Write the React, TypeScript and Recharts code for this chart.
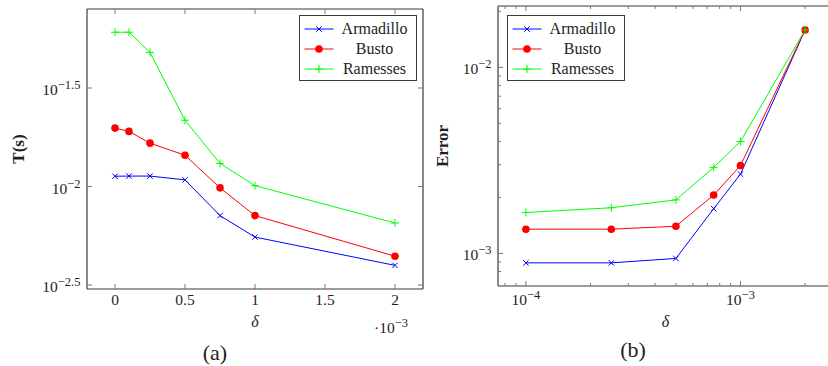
import React from "react";
import { LineChart, Line, XAxis, YAxis, Legend } from "recharts";

// panel (a): running time against delta
const deltaTime = [0, 0.0001, 0.00025, 0.0005, 0.00075, 0.001, 0.002];
const timeArmadillo = [0.01128, 0.0113, 0.0113, 0.01081, 0.00712, 0.00554, 0.00398];
const timeBusto = [0.0198, 0.01905, 0.0166, 0.01442, 0.00985, 0.00712, 0.00443];
const timeRamesses = [0.0607, 0.0607, 0.0479, 0.0217, 0.0131, 0.0101, 0.00653];

// panel (b): error against delta
const deltaError = [0.0001, 0.00025, 0.0005, 0.00075, 0.001, 0.002];
const errorArmadillo = [0.00089, 0.00089, 0.00094, 0.00174, 0.00267, 0.0159];
const errorBusto = [0.00135, 0.00135, 0.0014, 0.00206, 0.00297, 0.0159];
const errorRamesses = [0.00166, 0.00176, 0.00194, 0.0029, 0.004, 0.0159];

// ticks
const timeXTicks = [0, 0.0005, 0.001, 0.0015, 0.002];
const timeYTicks = [10 ** -2.5, 10 ** -2, 10 ** -1.5];
const errorXMajor = [0.0001, 0.001];
const errorXMinor = [0.00008, 0.00009, 0.0002, 0.0003, 0.0004, 0.0005, 0.0006, 0.0007, 0.0008, 0.0009, 0.002];
const errorYMajor = [0.001, 0.01];
const errorYMinor = [0.0008, 0.0009, 0.002, 0.003, 0.004, 0.005, 0.006, 0.007, 0.008, 0.009, 0.02];

const timeXDomain = [-0.0002, 0.0022];
const timeYDomain = [10 ** -2.52, 10 ** -1.099];
const errorXDomain = [10 ** -4.13, 10 ** -2.569];
const errorYDomain = [10 ** -3.175, 10 ** -1.67];

const series = [
  { name: "Armadillo", color: "#0000ff", mark: "x" },
  { name: "Busto", color: "#ff0000", mark: "o" },
  { name: "Ramesses", color: "#00ff00", mark: "+" },
];

const timeRows = deltaTime.map((d, i) => ({
  delta: d,
  Armadillo: timeArmadillo[i],
  Busto: timeBusto[i],
  Ramesses: timeRamesses[i],
}));

const errorRows = deltaError.map((d, i) => ({
  delta: d,
  Armadillo: errorArmadillo[i],
  Busto: errorBusto[i],
  Ramesses: errorRamesses[i],
}));

const FONT = '"Liberation Serif", "DejaVu Serif", serif';
const FRAME = "#3a3a3a";
const TICK = "#7a7a7a";
const TEXT = "#1e1e1e";

function Mark({ cx, cy, mark, color }: any) {
  if (cx == null || cy == null) return null;
  if (mark === "o") return <circle cx={cx} cy={cy} r={3.8} fill={color} />;
  if (mark === "x") {
    const s = 2.7;
    return (
      <path
        d={`M${cx - s},${cy - s}L${cx + s},${cy + s}M${cx - s},${cy + s}L${cx + s},${cy - s}`}
        stroke={color}
        strokeWidth={1}
        fill="none"
      />
    );
  }
  const s = 4;
  return (
    <path
      d={`M${cx - s},${cy}L${cx + s},${cy}M${cx},${cy - s}L${cx},${cy + s}`}
      stroke={color}
      strokeWidth={1}
      fill="none"
    />
  );
}

const minus = (v: number) => (v < 0 ? "\u2212" + Math.abs(v) : String(v));

function powLabel(v: number) {
  const e = Math.round(Math.log10(v) * 10) / 10;
  return (
    <>
      <tspan>10</tspan>
      <tspan dy={-6} fontSize={12.5}>
        {minus(e)}
      </tspan>
    </>
  );
}

const isIn = (list: number[], v: number) => list.some((m) => Math.abs(m - v) <= Math.abs(m) * 1e-6 + 1e-12);

function makeTick(
  side: "bottom" | "top" | "left" | "right",
  majors: number[] | null,
  label?: (v: number) => React.ReactNode,
  labelOffset = 0
) {
  return (props: any) => {
    const { x, y, payload } = props;
    const v = payload.value;
    const major = !majors || isIn(majors, v);
    const len = major ? 5 : 3;
    let x2 = x;
    let y2 = y;
    if (side === "bottom") y2 = y - len;
    if (side === "top") y2 = y + len;
    if (side === "left") x2 = x + len;
    if (side === "right") x2 = x - len;
    return (
      <g>
        <line x1={x} y1={y} x2={x2} y2={y2} stroke={TICK} strokeWidth={1} />
        {major && label && side === "bottom" && (
          <text x={x} y={y + labelOffset} textAnchor="middle" fontFamily={FONT} fontSize={15.5} fill={TEXT}>
            {label(v)}
          </text>
        )}
        {major && label && side === "left" && (
          <text x={x - 6.5} y={y + 7} textAnchor="end" fontFamily={FONT} fontSize={15.5} fill={TEXT}>
            {label(v)}
          </text>
        )}
      </g>
    );
  };
}

function renderLegend({ payload }: any) {
  const items = (payload || []).map((p: any) => series.find((s) => s.name === p.value)).filter(Boolean);
  return (
    <div
      style={{
        width: 118,
        height: 66,
        boxSizing: "border-box",
        border: `1.3px solid ${FRAME}`,
        background: "#fff",
        paddingTop: 2.6,
        fontFamily: FONT,
        fontSize: 16,
        color: TEXT,
      }}
    >
      {items.map((s: any) => (
        <div key={s.name} style={{ display: "flex", alignItems: "center", height: 20 }}>
          <svg width={36} height={20} style={{ display: "block" }}>
            <line x1={4.5} y1={10} x2={33.5} y2={10} stroke={s.color} strokeWidth={1} />
            <Mark cx={19} cy={10} mark={s.mark} color={s.color} />
          </svg>
          <span style={{ width: 77, textAlign: "center", lineHeight: "20px" }}>{s.name}</span>
        </div>
      ))}
    </div>
  );
}

function yTitle(text: string, dx: number) {
  return (props: any) => {
    const vb = props.viewBox || {};
    const cx = vb.x + dx;
    const cy = vb.y + vb.height / 2;
    return (
      <text
        x={cx}
        y={cy}
        transform={`rotate(-90 ${cx} ${cy})`}
        textAnchor="middle"
        dominantBaseline="central"
        fontFamily={FONT}
        fontWeight="bold"
        fontSize={17}
        fill={TEXT}
      >
        {text}
      </text>
    );
  };
}

function xTitle(caption: string, captionShift: number, scaleNote: boolean, deltaBase: number) {
  return (props: any) => {
    const vb = props.viewBox || {};
    const mid = vb.x + vb.width / 2;
    return (
      <g fontFamily={FONT} fill={TEXT}>
        <text x={mid} y={vb.y + deltaBase} textAnchor="middle" fontStyle="italic" fontSize={16}>
          δ
        </text>
        {scaleNote && (
          <text x={vb.x + vb.width - 15} y={vb.y + 44} textAnchor="end" fontSize={15.5}>
            <tspan>·10</tspan>
            <tspan dy={-6} fontSize={12.5}>
              −3
            </tspan>
          </text>
        )}
        <text x={mid + captionShift} y={vb.y + 71} textAnchor="middle" fontSize={22}>
          {caption}
        </text>
      </g>
    );
  };
}

function seriesLines() {
  return series.map((s) => (
    <Line
      key={s.name}
      xAxisId="b"
      yAxisId="l"
      type="linear"
      dataKey={s.name}
      name={s.name}
      stroke={s.color}
      strokeWidth={1}
      dot={(p: any) => <Mark key={`${s.name}-${p.index}`} cx={p.cx} cy={p.cy} mark={s.mark} color={s.color} />}
      activeDot={false}
      isAnimationActive={false}
    />
  ));
}

function TimePanel() {
  const fmt = (v: number) => String(Math.round(v * 10000) / 10);
  return (
    <LineChart
      width={426}
      height={366}
      data={timeRows}
      margin={{ top: 8, right: 2, bottom: 0, left: 0 }}
      style={{ position: "absolute", left: 0, top: 0 }}
    >
      <XAxis
        xAxisId="b"
        dataKey="delta"
        type="number"
        domain={timeXDomain}
        allowDataOverflow
        ticks={timeXTicks}
        interval={0}
        height={77}
        tickSize={0}
        tickMargin={0}
        tick={makeTick("bottom", null, fmt, 15.5)}
        axisLine={{ stroke: FRAME, strokeWidth: 1.2 }}
        tickLine={false}
        label={{ content: xTitle("(a)", -40, true, 37.5) }}
      />
      <XAxis
        xAxisId="t"
        orientation="top"
        dataKey="delta"
        type="number"
        domain={timeXDomain}
        allowDataOverflow
        ticks={timeXTicks}
        interval={0}
        height={1}
        tickSize={0}
        tickMargin={0}
        tick={makeTick("top", null)}
        axisLine={{ stroke: FRAME, strokeWidth: 1.2 }}
        tickLine={false}
      />
      <YAxis
        yAxisId="l"
        type="number"
        scale="log"
        domain={timeYDomain}
        allowDataOverflow
        ticks={timeYTicks}
        interval={0}
        width={87}
        tickSize={0}
        tickMargin={0}
        tick={makeTick("left", null, powLabel)}
        axisLine={{ stroke: FRAME, strokeWidth: 1.2 }}
        tickLine={false}
        label={{ content: yTitle("T(s)", 18) }}
      />
      <YAxis
        yAxisId="r"
        orientation="right"
        type="number"
        scale="log"
        domain={timeYDomain}
        allowDataOverflow
        ticks={timeYTicks}
        interval={0}
        width={1}
        tickSize={0}
        tickMargin={0}
        tick={makeTick("right", null)}
        axisLine={{ stroke: FRAME, strokeWidth: 1.2 }}
        tickLine={false}
      />
      <Legend
        content={renderLegend}
        layout="vertical"
        align="center"
        verticalAlign="middle"
        wrapperStyle={{ left: 299, top: 15, width: 118, height: 66 }}
      />
      {seriesLines()}
    </LineChart>
  );
}

function ErrorPanel() {
  const xTicks = [...errorXMinor, ...errorXMajor].sort((a, b) => a - b);
  const yTicks = [...errorYMinor, ...errorYMajor].sort((a, b) => a - b);
  return (
    <LineChart
      width={412}
      height={366}
      data={errorRows}
      margin={{ top: 5, right: 3, bottom: 0, left: 0 }}
      style={{ position: "absolute", left: 425, top: 0 }}
    >
      <XAxis
        xAxisId="b"
        dataKey="delta"
        type="number"
        scale="log"
        domain={errorXDomain}
        allowDataOverflow
        ticks={xTicks}
        interval={0}
        height={80}
        tickSize={0}
        tickMargin={0}
        tick={makeTick("bottom", errorXMajor, powLabel, 19.3)}
        axisLine={{ stroke: FRAME, strokeWidth: 1.2 }}
        tickLine={false}
        label={{ content: xTitle("(b)", -32.5, false, 41) }}
      />
      <XAxis
        xAxisId="t"
        orientation="top"
        dataKey="delta"
        type="number"
        scale="log"
        domain={errorXDomain}
        allowDataOverflow
        ticks={xTicks}
        interval={0}
        height={1}
        tickSize={0}
        tickMargin={0}
        tick={makeTick("top", errorXMajor)}
        axisLine={{ stroke: FRAME, strokeWidth: 1.2 }}
        tickLine={false}
      />
      <YAxis
        yAxisId="l"
        type="number"
        scale="log"
        domain={errorYDomain}
        allowDataOverflow
        ticks={yTicks}
        interval={0}
        width={73}
        tickSize={0}
        tickMargin={0}
        tick={makeTick("left", errorYMajor, powLabel)}
        axisLine={{ stroke: FRAME, strokeWidth: 1.2 }}
        tickLine={false}
        label={{ content: yTitle("Error", 17.7) }}
      />
      <YAxis
        yAxisId="r"
        orientation="right"
        type="number"
        scale="log"
        domain={errorYDomain}
        allowDataOverflow
        ticks={yTicks}
        interval={0}
        width={1}
        tickSize={0}
        tickMargin={0}
        tick={makeTick("right", errorYMajor)}
        axisLine={{ stroke: FRAME, strokeWidth: 1.2 }}
        tickLine={false}
      />
      <Legend
        content={renderLegend}
        layout="vertical"
        align="center"
        verticalAlign="middle"
        wrapperStyle={{ left: 82, top: 15, width: 118, height: 66 }}
      />
      {seriesLines()}
    </LineChart>
  );
}

export default function App() {
  return (
    <div
      style={{
        position: "absolute",
        left: 0,
        top: 0,
        width: 828,
        height: 366,
        overflow: "hidden",
        background: "#fff",
      }}
    >
      <TimePanel />
      <ErrorPanel />
    </div>
  );
}
